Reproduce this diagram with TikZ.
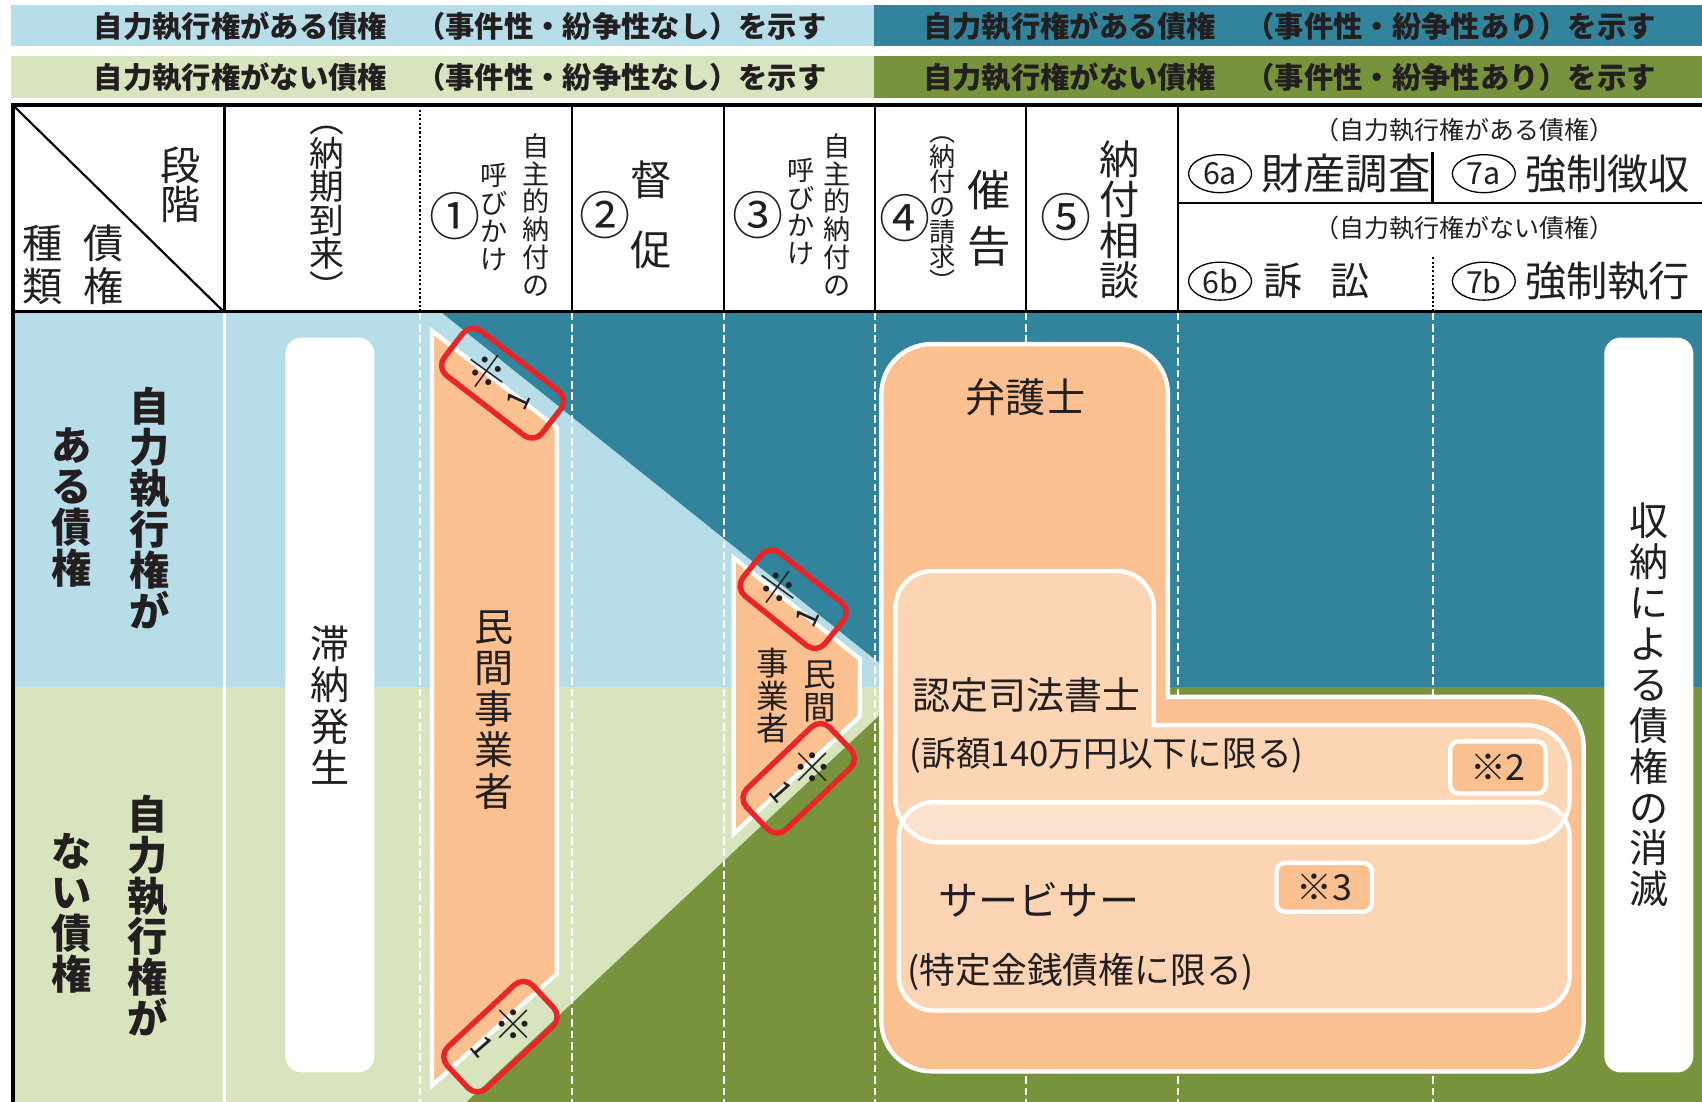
\documentclass[tikz,border=0pt]{standalone}
\usepackage{fontspec}
\setmainfont{Noto Sans CJK JP}
\usetikzlibrary{shapes.geometric}
\definecolor{lblue}{HTML}{B7DDE8}
\definecolor{dteal}{HTML}{31849B}
\definecolor{lgreen}{HTML}{D7E4BD}
\definecolor{dolive}{HTML}{77933C}
\definecolor{orng}{HTML}{FAC090}
\definecolor{peach}{HTML}{FCD5B4}
\definecolor{redb}{HTML}{E8262A}
\definecolor{ink}{HTML}{231F20}
\newcommand{\fs}[1]{\fontsize{#1}{#1}\selectfont}
\newcommand{\vfs}[2]{\fontsize{#1}{#2}\selectfont}
\begin{document}
\begin{tikzpicture}[x=1pt,y=-1pt,
  every node/.style={inner sep=0pt,outer sep=0pt,text=ink,align=center},
  bantext/.style={font=\bfseries\fs{27}},
  bodydash/.style={white,line width=1.5,dash pattern=on 7pt off 3.5pt},
  hdot/.style={black,line width=1.6,dash pattern=on 2pt off 2pt},
  hline/.style={black,line width=2.2},
  whitebox/.style={fill=white,rounded corners=15,minimum width=82,minimum height=677},
  mpoly/.style={fill=orng,draw=white,line width=4,line join=miter},
  redbox/.style={draw=redb,line width=5,rounded corners=12,minimum height=52},
  kome/.style={font=\fs{37}},
  one/.style={font=\fs{28}},
  notebox/.style={fill=orng,draw=white,line width=4,rounded corners=8,font=\fs{33}},
  ell/.style={ellipse,draw=black,line width=1.2,minimum width=58,minimum height=35,font=\fs{28}},
  circnum/.style={font=\fs{47}}
]
\useasboundingbox (0,0) rectangle (1568,1015);
\fill[white] (0,0) rectangle (1568,1015);

% banners
\fill[lblue] (10,5) rectangle (805,42);
\fill[dteal] (805,5) rectangle (1568,42);
\fill[lgreen] (10,52) rectangle (805,90);
\fill[dolive] (805,52) rectangle (1568,90);
\node[bantext] (b1) at (424,24) {自力執行権がある債権　（事件性・紛争性なし）を示す};
\node[bantext] (b2) at (1188,24) {自力執行権がある債権　（事件性・紛争性あり）を示す};
\node[bantext] (b3) at (424,71) {自力執行権がない債権　（事件性・紛争性なし）を示す};
\node[bantext] (b4) at (1188,71) {自力執行権がない債権　（事件性・紛争性あり）を示す};

% body background
\fill[lblue] (12,288) rectangle (1568,633);
\fill[lgreen] (12,633) rectangle (1568,1015);
\fill[dteal] (407,288) -- (1568,288) -- (1568,633) -- (838,633) -- cycle;
\fill[dolive] (838,633) -- (1568,633) -- (1568,1015) -- (430,1015) -- cycle;

% body lines
\draw[white,line width=2.5] (207,288) -- (207,1015);
\foreach \x in {387,527,667,806,945,1085,1320} \draw[bodydash] (\x,288) -- (\x,1015);

% left column labels
\node[font=\bfseries\vfs{37}{37.7}] (ua) at (138,468) {自\\力\\執\\行\\権\\が};
\node[font=\bfseries\vfs{37}{37.7}] (ub) at (66,467.5) {あ\\る\\債\\権};
\node[font=\bfseries\vfs{37}{37.7}] (la) at (136,843.5) {自\\力\\執\\行\\権\\が};
\node[font=\bfseries\vfs{37}{37.7}] (lb) at (66,841.5) {な\\い\\債\\権};

% white boxes
\node[whitebox,font=\vfs{36}{38}] (tainou) at (304,649.5) {滞\\納\\発\\生};
\node[whitebox,font=\vfs{36}{37.7}] (shuno) at (1519,649.5) {収\\納\\に\\よ\\る\\債\\権\\の\\消\\滅};

% private business polygons
\draw[mpoly] (398,305) -- (513,394) -- (513,897) -- (398,1000) -- cycle;
\node[font=\vfs{36}{38}] (min1) at (455,654) {民\\間\\事\\業\\者};
\draw[mpoly] (676,514) -- (792,607) -- (792,660) -- (676,768) -- cycle;
\node[font=\vfs{30}{31}] (min2a) at (755.5,637) {民\\間};
\node[font=\vfs{30}{30}] (min2b) at (712,641) {事\\業\\者};

% lawyer region
\path[fill=orng,draw=white,line width=4,rounded corners=46]
  (812,650) -- (812,317) -- (1076,317) -- (1076,500) [sharp corners] -- (1076,642)
  -- (1250,642) [rounded corners=46] -- (1459,642) -- (1459,987) -- (812,987) -- cycle;
% judicial scrivener region
\path[fill=peach,draw=white,line width=4,rounded corners=34]
  (825,700) -- (825,526) -- (1063,526) -- (1063,600) [sharp corners] -- (1063,668)
  -- (1250,668) [rounded corners=40] -- (1446,668) -- (1446,776) -- (825,776) -- cycle;
% servicer region
\path[fill=white,fill opacity=0.32,draw=white,line width=4,rounded corners=32]
  (828,739) rectangle (1446,931);

\node[font=\fs{37}] (bengo) at (945,366) {弁護士};
\node[font=\fs{35}] (nintei) at (946,640) {認定司法書士};
\node[font=\fs{32},anchor=west] (sogaku) at (838,696) {(訴額140万円以下に限る)};
\node[notebox,minimum width=88,minimum height=48] (n2) at (1380,707) {※2};
\node[font=\fs{37}] (servicer) at (957,829) {サービサー};
\node[notebox,minimum width=88,minimum height=45] (n3) at (1220,817.5) {※3};
\node[font=\fs{33},anchor=west] (tokutei) at (836,895) {(特定金銭債権に限る)};

% red boxes with note 1
\node[redbox,minimum width=114,rotate=-37.7] (ra) at (463,353) {};
\node[kome,rotate=9] (ka) at (449,342.7) {※};
\node[one,rotate=65] (oa) at (477.8,368.8) {1};
\node[redbox,minimum width=97,minimum height=51,rotate=-38.8] (rb) at (730.7,552) {};
\node[kome,rotate=9] (kb) at (716.3,541.6) {※};
\node[one,rotate=65] (ob) at (743.9,568.5) {1};
\node[redbox,minimum width=106,rotate=43.7] (rc) at (735.8,717) {};
\node[kome] (kc) at (748.2,706.9) {※};
\node[one,rotate=-49] (oc) at (719.4,729.1) {1};
\node[redbox,minimum width=108,rotate=43] (rd) at (461,955) {};
\node[kome] (kd) at (473.6,943.8) {※};
\node[one,rotate=-49] (od) at (444.6,964.7) {1};

% header
\fill[white] (12,97) rectangle (1568,288);
\draw[black,line width=4] (10,97) -- (1568,97);
\draw[black,line width=3.5] (12,287) -- (1568,287);
\foreach \x in {207,527,667,806,945,1085} \draw[hline] (\x,97) -- (\x,288);
\draw[hdot] (387,97) -- (387,288);
\draw[black,line width=2] (12,97) -- (207,288);
\draw[black,line width=2] (1085,187) -- (1568,187);
\draw[black,line width=2.5] (1320,140) -- (1320,187);
\draw[hdot] (1320,237) -- (1320,288);
\draw[black,line width=4] (12,95) -- (12,1015);

\node[font=\vfs{37}{36}] (dan) at (166,170) {段\\階};
\node[font=\vfs{37}{39}] (saiken) at (95,244) {債\\権};
\node[font=\vfs{37}{39}] (shurui) at (39,244) {種\\類};
\node[font=\vfs{32}{31}] (nouki) at (301,196.5) {︵\\納\\期\\到\\来\\︶};
\node[circnum] (c1) at (419,199) {①};
\node[font=\vfs{25}{25.7}] (j1a) at (494,198) {自\\主\\的\\納\\付\\の};
\node[font=\vfs{25}{25.7}] (j1b) at (455,200) {呼\\び\\か\\け};
\node[circnum] (c2) at (557,198) {②};
\node[font=\fs{38}] (tok) at (600,166) {督};
\node[font=\fs{38}] (soku) at (600,230) {促};
\node[circnum] (c3) at (698,198) {③};
\node[font=\vfs{25}{25.7}] (j3a) at (771.5,198) {自\\主\\的\\納\\付\\の};
\node[font=\vfs{25}{25.7}] (j3b) at (738,195) {呼\\び\\か\\け};
\node[circnum] (c4) at (834,201) {④};
\node[font=\vfs{24}{23}] (seikyu) at (868,197.5) {︵\\納\\付\\の\\請\\求\\︶};
\node[font=\fs{40}] (sai) at (911,175) {催};
\node[font=\fs{40}] (koku) at (911,227) {告};
\node[circnum] (c5) at (982,200) {⑤};
\node[font=\vfs{37}{37}] (soudan) at (1031,202.5) {納\\付\\相\\談};

\node[font=\fs{23}] (hdra) at (1349,120) {（自力執行権がある債権）};
\node[font=\fs{23}] (hdrb) at (1349,210) {（自力執行権がない債権）};
\node[ell] (e6a) at (1124,160) {6a};
\node[font=\fs{39}] (zaisan) at (1240,160) {財産調査};
\node[ell] (e7a) at (1367,160) {7a};
\node[font=\fs{38}] (kyosei) at (1481,160) {強制徴収};
\node[ell] (e6b) at (1124,259) {6b};
\node[font=\fs{36}] (sosho) at (1213,259) {訴\hspace{26pt}訟};
\node[ell] (e7b) at (1367,259) {7b};
\node[font=\fs{38}] (shikko) at (1481,259) {強制執行};
\end{tikzpicture}
\end{document}
